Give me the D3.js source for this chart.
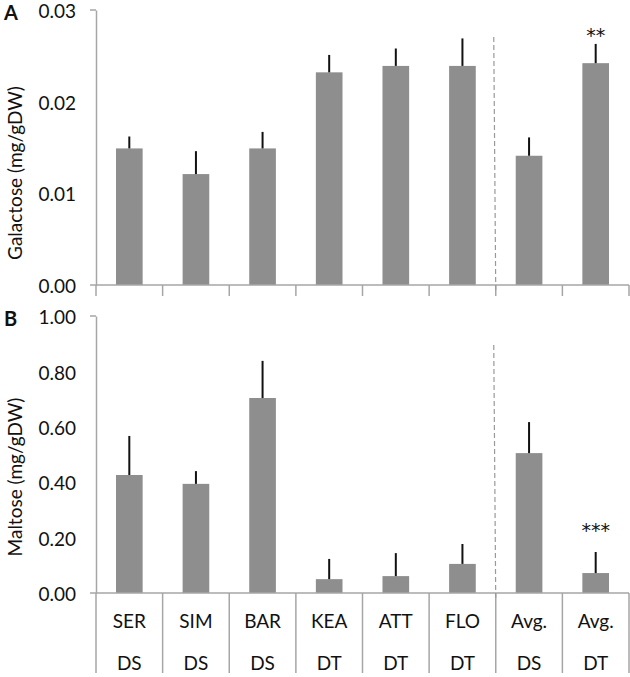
<!DOCTYPE html>
<html><head><meta charset="utf-8">
<script src="https://cdn.jsdelivr.net/npm/d3@7"></script>
<style>body{margin:0;background:#fff}svg{display:block}text{font-family:Lato,sans-serif}</style>
</head><body>
<svg id="c" width="630" height="677"></svg>
<script>
const strains = ["SER","SIM","BAR","KEA","ATT","FLO","Avg.","Avg."];
const groups = ["DS","DS","DS","DT","DT","DT","DS","DT"];
const galactose = [0.0149,0.0121,0.0149,0.0232,0.0239,0.0239,0.0141,0.0242];
const galactoseErr = [0.0013,0.0025,0.0018,0.0019,0.0019,0.0030,0.0020,0.0021];
const maltose = [0.426,0.394,0.704,0.050,0.061,0.105,0.505,0.072];
const maltoseErr = [0.141,0.046,0.134,0.073,0.083,0.072,0.112,0.076];
const galTicks = [0,0.01,0.02,0.03];
const malTicks = [0,0.2,0.4,0.6,0.8,1.0];
const stars = ["","","","","","","","**"];
const starsB = ["","","","","","","","***"];

const svg = d3.select("#c");
const idx = d3.range(strains.length);
const x = d3.scaleBand().domain(idx).range([96,629]).padding(0);
const bw = x.bandwidth()*0.4;
const axisCol = "#a6a6a6", barCol = "#8e8e8e", FS = 19;

function panel(vals, errs, ticks, fmt, y0, y1, title, titleY, letter, letterY, starArr, starY, dashTop, isBottom){
  const y = d3.scaleLinear().domain([0, ticks[ticks.length-1]]).range([y0,y1]);
  const g = svg.append("g");
  g.selectAll("rect.bar").data(idx).join("rect")
    .attr("x", i=>x(i)+(x.bandwidth()-bw)/2).attr("width", bw)
    .attr("y", i=>y(vals[i])).attr("height", i=>y(0)-y(vals[i])).attr("fill", barCol);
  g.selectAll("line.err").data(idx).join("line")
    .attr("x1", i=>x(i)+x.bandwidth()/2).attr("x2", i=>x(i)+x.bandwidth()/2)
    .attr("y1", i=>y(vals[i])).attr("y2", i=>y(vals[i]+errs[i]))
    .attr("stroke","#111").attr("stroke-width",2);
  const yAxis = d3.axisLeft(y).tickValues(ticks).tickFormat(fmt).tickSize(0).tickPadding(20);
  const ya = g.append("g").attr("transform","translate(96,0)").call(yAxis);
  ya.select(".domain").attr("stroke",axisCol).attr("stroke-width",1.5);
  ya.selectAll("text").attr("font-size",FS).attr("fill","#111").attr("dy","0.4em");
  g.append("line").attr("x1",90).attr("x2",96).attr("y1",y1).attr("y2",y1).attr("stroke",axisCol).attr("stroke-width",1.5);
  g.append("line").attr("x1",90).attr("x2",629).attr("y1",y0).attr("y2",y0).attr("stroke",axisCol).attr("stroke-width",1.5);
  const bounds = idx.map(i=>x(i)).concat([x(idx[idx.length-1])+x.bandwidth()]);
  g.selectAll("line.b").data(bounds).join("line")
    .attr("x1",d=>d).attr("x2",d=>d).attr("y1",y0).attr("y2", isBottom?673:296)
    .attr("stroke",axisCol).attr("stroke-width",1.5);
  const sx = x(6);
  g.append("line").attr("x1",sx-2).attr("x2",sx).attr("y1",dashTop).attr("y2",y0+8)
    .attr("stroke","#999").attr("stroke-width",1.2).attr("stroke-dasharray","5,3");
  g.append("text").attr("transform",`translate(22,${titleY}) rotate(-90)`).attr("text-anchor","middle")
    .attr("font-size",FS).attr("fill","#111").text(title);
  g.append("text").attr("x",4).attr("y",letterY).attr("font-size",20).attr("font-weight","bold")
    .attr("fill","#111").text(letter);
  g.selectAll("text.star").data(idx.filter(i=>starArr[i])).join("text")
    .attr("x", i=>x(i)+x.bandwidth()/2).attr("y", starY).attr("text-anchor","middle")
    .attr("font-size",FS).style("font-family","'DejaVu Sans'").attr("fill","#111").text(i=>starArr[i]);
  return g;
}

panel(galactose, galactoseErr, galTicks, d3.format(".2f"), 285, 10, "Galactose (mg/gDW)", 173, "A", 20, stars, 42, 37, false);
const gb = panel(maltose, maltoseErr, malTicks, d3.format(".2f"), 593, 316, "Maltose (mg/gDW)", 477, "B", 326, starsB, 537, 345, true);

gb.selectAll("text.l1").data(idx).join("text")
  .attr("x", i=>x(i)+x.bandwidth()/2).attr("y",628).attr("text-anchor","middle")
  .attr("font-size",FS).attr("fill","#111").text(i=>strains[i]);
gb.selectAll("text.l2").data(idx).join("text")
  .attr("x", i=>x(i)+x.bandwidth()/2).attr("y",670).attr("text-anchor","middle")
  .attr("font-size",FS).attr("fill","#111").text(i=>groups[i]);
</script>
</body></html>
